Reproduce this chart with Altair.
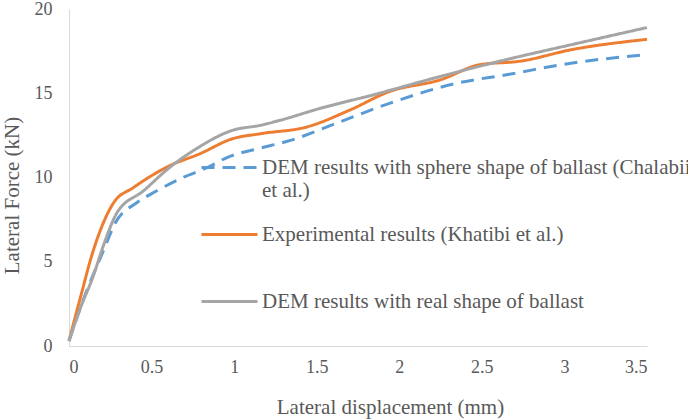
import altair as alt
import pandas as pd

series_names = [
    "DEM results with sphere shape of ballast (Chalabii et al.)",
    "Experimental results (Khatibi et al.)",
    "DEM results with real shape of ballast",
]
colors = ["#5B9BD5", "#ED7D31", "#A5A5A5"]
dashes = [[13, 8], [1, 0], [1, 0]]

sphere_x = [0, 0.085, 0.21, 0.28, 0.41, 0.53, 0.69, 0.84, 0.96, 1.14, 1.34, 1.64, 1.94, 2.35, 2.65, 3.05, 3.5]
sphere_y = [0.3, 2.7, 5.7, 7.3, 8.5, 9.2, 10.0, 10.6, 11.2, 11.7, 12.2, 13.3, 14.4, 15.6, 16.1, 16.8, 17.3]

exp_x = [0, 0.067, 0.145, 0.27, 0.39, 0.61, 0.79, 0.99, 1.16, 1.44, 1.70, 1.94, 2.25, 2.49, 2.73, 3.05, 3.5]
exp_y = [0.3, 2.8, 5.6, 8.5, 9.4, 10.7, 11.4, 12.3, 12.6, 13.0, 14.0, 15.1, 15.8, 16.7, 16.9, 17.6, 18.2]

real_x = [0, 0.067, 0.145, 0.21, 0.29, 0.45, 0.61, 0.77, 0.99, 1.16, 1.28, 1.52, 1.84, 2.25, 2.65, 3.05, 3.5]
real_y = [0.3, 2.2, 4.1, 6.0, 7.9, 9.2, 10.6, 11.7, 12.8, 13.1, 13.4, 14.1, 14.9, 16.0, 17.0, 17.9, 18.9]

x_ticks = [0, 0.5, 1, 1.5, 2, 2.5, 3, 3.5]
y_ticks = [0, 5, 10, 15, 20]

rows = []
for name, xs, ys in zip(series_names, [sphere_x, exp_x, real_x], [sphere_y, exp_y, real_y]):
    for i, (xv, yv) in enumerate(zip(xs, ys)):
        rows.append({"series": name, "x": xv, "y": yv, "order": i})
df = pd.DataFrame(rows)

FONT = "Liberation Serif"
TXT = "#595959"

label_expr = (
    "datum.label == '" + series_names[0] + "' ? "
    "['DEM results with sphere shape of ballast (Chalabii', 'et al.)'] : [datum.label, ' ']"
)


def make_legend():
    return alt.Legend(title=None, orient="none", legendX=131, legendY=129,
                      symbolType="stroke", symbolSize=3136, symbolStrokeWidth=3,
                      labelFont=FONT, labelFontSize=21, labelColor=TXT,
                      labelOffset=3, labelLimit=800, rowPadding=4,
                      labelExpr=label_expr)


chart = alt.Chart(df).mark_line(strokeWidth=3, interpolate="monotone").encode(
    x=alt.X("x:Q", scale=alt.Scale(domain=[0, 3.5], nice=False),
            axis=alt.Axis(values=x_ticks, title="Lateral displacement (mm)", format="~g",
                          grid=False, ticks=False, domainColor="#D9D9D9",
                          labelFont=FONT, labelFontSize=18, labelColor=TXT,
                          titleFont=FONT, titleFontSize=21, titleColor=TXT, titleFontWeight="normal",
                          labelPadding=12, titlePadding=20, titleX=321)),
    y=alt.Y("y:Q", scale=alt.Scale(domain=[0, 20], nice=False),
            axis=alt.Axis(values=y_ticks, title="Lateral Force (kN)",
                          grid=False, ticks=False, domainColor="#D9D9D9",
                          labelFont=FONT, labelFontSize=18, labelColor=TXT,
                          titleFont=FONT, titleFontSize=21, titleColor=TXT, titleFontWeight="normal",
                          labelPadding=17, titlePadding=12, titleY=186)),
    color=alt.Color("series:N", scale=alt.Scale(domain=series_names, range=colors),
                    legend=make_legend()),
    strokeDash=alt.StrokeDash("series:N", scale=alt.Scale(domain=series_names, range=dashes),
                              legend=make_legend()),
    order="order:Q",
).properties(
    width=578, height=337,
    autosize=alt.AutoSizeParams(type="none"),
    padding={"left": 69, "top": 9, "right": 41, "bottom": 73},
).configure_view(stroke=None)

chart.save("out.html", embed_options={"renderer": "svg", "actions": False})
